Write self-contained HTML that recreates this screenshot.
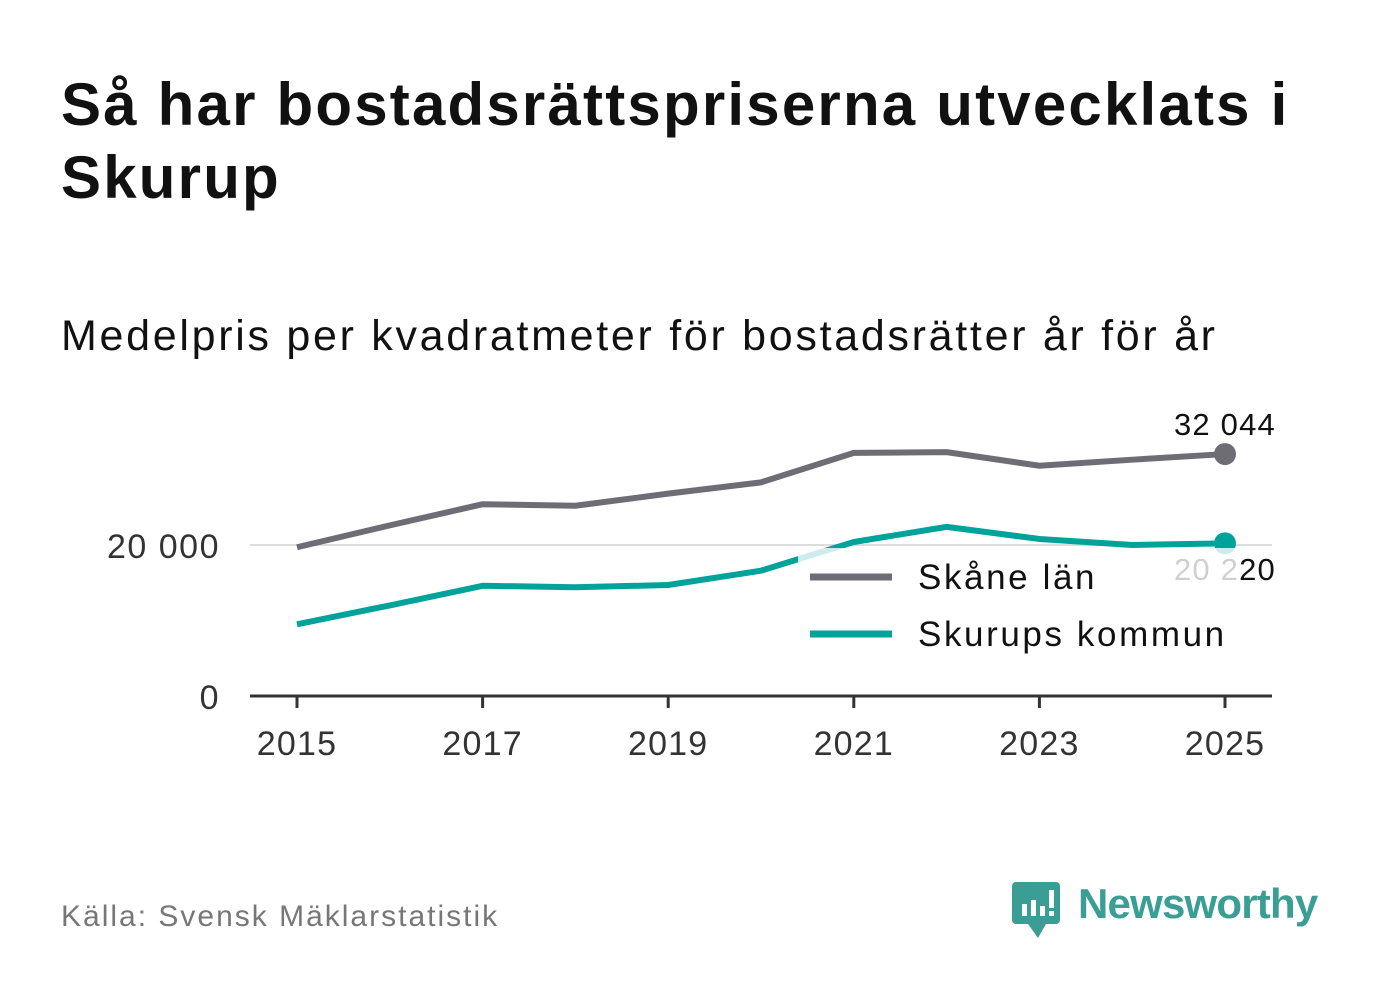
<!DOCTYPE html>
<html><head><meta charset="utf-8"><style>
body{margin:0;width:1382px;height:999px;background:#fff;font-family:"Liberation Sans","DejaVu Sans",sans-serif;overflow:hidden;position:relative}
h1{position:absolute;left:61px;top:68px;margin:0;font-size:60px;line-height:73px;font-weight:bold;color:#111;width:1320px;letter-spacing:2.2px}
.sub{position:absolute;left:61px;top:312px;font-size:43px;color:#111;letter-spacing:2.7px}
.src{position:absolute;left:61px;top:900px;font-size:30px;color:#777;letter-spacing:2px}
</style></head><body>
<h1>Så har bostadsrättspriserna utvecklats i Skurup</h1>
<div class="sub">Medelpris per kvadratmeter för bostadsrätter år för år</div>
<svg id="c" width="1382" height="999" style="position:absolute;left:0;top:0"></svg>
<div class="src">Källa: Svensk Mäklarstatistik</div>
<div style="position:absolute;left:1012px;top:880px;">
<svg width="50" height="60"><rect x="0" y="2" width="48" height="42" rx="4" fill="#3a9e94"/><polygon points="16,44 34,44 26,58" fill="#3a9e94"/><rect x="10" y="24" width="5" height="12" fill="#fff"/><rect x="19" y="20" width="5" height="16" fill="#fff"/><rect x="28" y="26" width="5" height="10" fill="#fff"/><rect x="37" y="10" width="5" height="18" fill="#fff"/><rect x="37" y="31" width="5" height="5" fill="#fff"/></svg>
<span style="position:absolute;left:66px;top:0;font-size:42px;font-weight:bold;color:#3a9e94;letter-spacing:-0.8px;white-space:nowrap">Newsworthy</span></div>
<script>
const years=[2015,2016,2017,2018,2019,2020,2021,2022,2023,2024,2025];
const skane=[19700,22600,25400,25200,26800,28300,32200,32300,30500,31300,32044];
const skurup=[9500,12000,14600,14400,14700,16600,20400,22400,20800,20000,20220];
const yTicks=[0,20000];
const yLabels=["0","20 000"];
const xTicks=[2015,2017,2019,2021,2023,2025];
const NS="http://www.w3.org/2000/svg";
const svg=document.getElementById('c');
const X=y=>297+(y-2015)*92.8;
const Y=v=>696-v*151/20000;
function el(t,a,txt){const e=document.createElementNS(NS,t);for(const k in a)e.setAttribute(k,a[k]);if(txt!==undefined)e.textContent=txt;svg.appendChild(e);return e;}
yTicks.forEach((v,i)=>{
 if(v>0){const g=el('line',{x1:250,x2:1272,y1:Y(v),y2:Y(v),stroke:'#ddd','stroke-width':2});
 }
 const t=el('text',{x:220,y:Y(v)+13,'text-anchor':'end','font-size':34,fill:'#333','letter-spacing':1.5},yLabels[i]);
 
});
const ax=el('line',{x1:250,x2:1272,y1:696,y2:696,stroke:'#333','stroke-width':3});

xTicks.forEach(y=>{
 const tk=el('line',{x1:X(y),x2:X(y),y1:696,y2:708,stroke:'#333','stroke-width':3});
 
 const t=el('text',{x:X(y),y:755,'text-anchor':'middle','font-size':34,fill:'#333','letter-spacing':1.2},y);
 
});
function series(d,col,name){
 const p=el('polyline',{points:d.map((v,i)=>X(years[i])+','+Y(v)).join(' '),fill:'none',stroke:col,'stroke-width':6,'stroke-linejoin':'round'});
 
 const c=el('circle',{cx:X(years[years.length-1]),cy:Y(d[d.length-1]),r:11,fill:col});
 
}
series(skane,'#6e6d75','skane');
series(skurup,'#00a39a','skurup');
const fmt=v=>String(Math.round(v)).replace(/\B(?=(\d{3})+(?!\d))/g,' ');
const l1=el('text',{x:1276,y:435,'text-anchor':'end','font-size':31,fill:'#111','letter-spacing':1.2},fmt(skane[10]));

const l2=el('text',{x:1276,y:580,'text-anchor':'end','font-size':31,fill:'#111','letter-spacing':1.2},fmt(skurup[10]));

const bg=el('rect',{x:798,y:548,width:440,height:112,fill:'#fff','fill-opacity':0.8});

[['Skåne län','#6e6d75',577],['Skurups kommun','#00a39a',634]].forEach(([n,c,y])=>{
 const ln=el('line',{x1:810,x2:892,y1:y,y2:y,stroke:c,'stroke-width':7});
 
 const t=el('text',{x:918,y:y+12,'font-size':35,fill:'#111','letter-spacing':2.6},n);
 
});
</script>
</body></html>
